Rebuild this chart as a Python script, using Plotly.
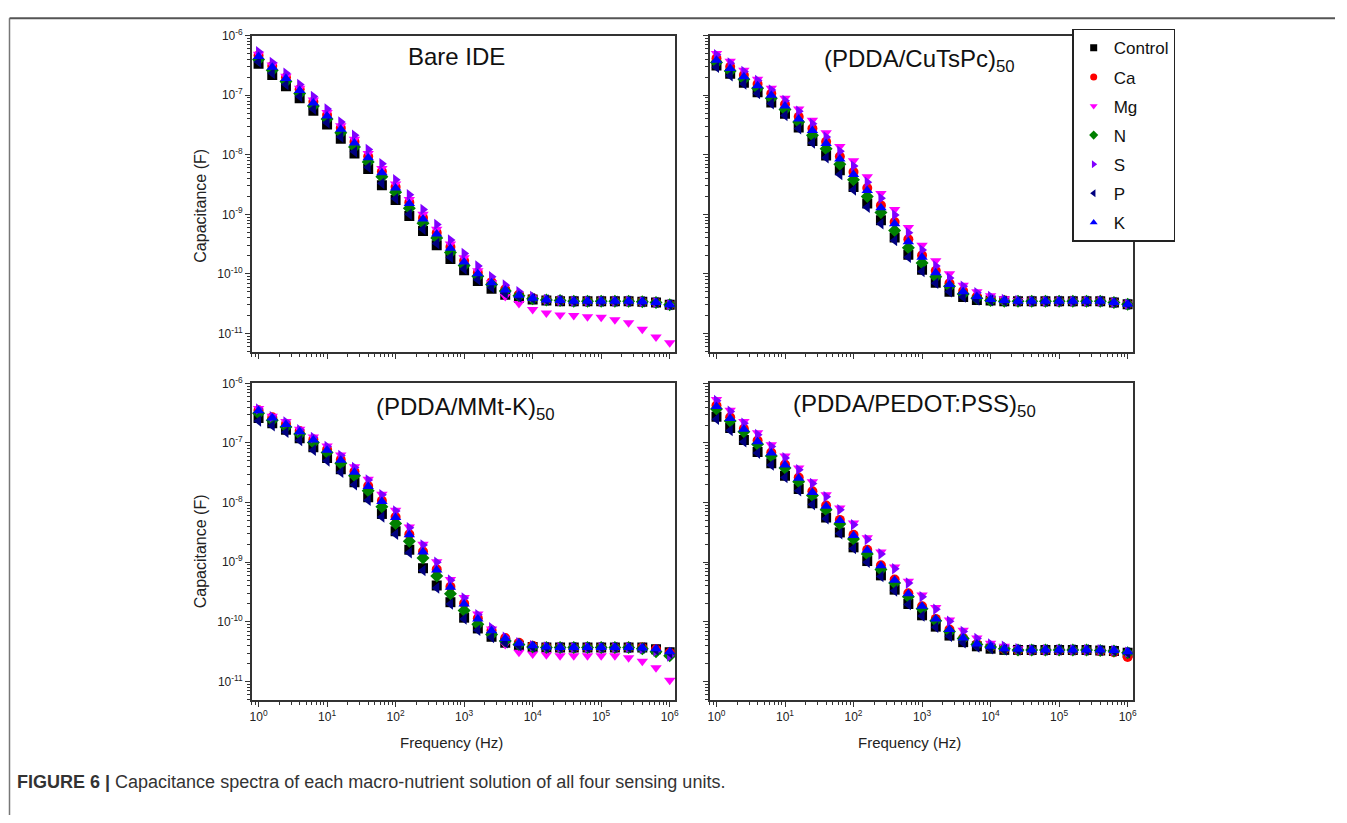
import plotly.graph_objects as go
import numpy as np

# ---------------- data ----------------
# frequency exponents: f = 10**freq_exp  (Hz)
freq_exp = [0.0, 0.2, 0.4, 0.6, 0.8, 1.0, 1.2, 1.4, 1.6, 1.8, 2.0, 2.2, 2.4, 2.6, 2.8,
            3.0, 3.2, 3.4, 3.6, 3.8, 4.0, 4.2, 4.4, 4.6, 4.8, 5.0, 5.2, 5.4, 5.6, 5.8, 6.0]

series_names = ["Control", "Ca", "Mg", "N", "S", "P", "K"]
panel_titles = ["Bare IDE", "(PDDA/CuTsPc)<sub>50</sub>",
                "(PDDA/MMt-K)<sub>50</sub>", "(PDDA/PEDOT:PSS)<sub>50</sub>"]
x_tick_exp = [0, 1, 2, 3, 4, 5, 6]
y_tick_exp = [-6, -7, -8, -9, -10, -11]

# capacitance values given as log10(C / F)
bare_control = [-6.47,-6.66,-6.85,-7.05,-7.26,-7.49,-7.73,-7.98,-8.24,-8.51,-8.76,-9.03,-9.28,-9.52,-9.75,-9.94,-10.12,-10.25,-10.35,-10.40,-10.43,-10.45,-10.46,-10.46,-10.46,-10.46,-10.46,-10.46,-10.47,-10.48,-10.52]
bare_ca      = [-6.33,-6.51,-6.70,-6.90,-7.11,-7.33,-7.55,-7.78,-8.03,-8.28,-8.54,-8.80,-9.06,-9.31,-9.55,-9.78,-9.98,-10.14,-10.26,-10.35,-10.41,-10.44,-10.45,-10.46,-10.46,-10.46,-10.46,-10.46,-10.47,-10.48,-10.52]
bare_mg      = [-6.31,-6.49,-6.68,-6.88,-7.08,-7.29,-7.51,-7.74,-7.98,-8.23,-8.49,-8.75,-9.00,-9.25,-9.50,-9.73,-9.95,-10.15,-10.38,-10.50,-10.60,-10.66,-10.69,-10.70,-10.72,-10.73,-10.77,-10.82,-10.93,-11.06,-11.16]
bare_n       = [-6.40,-6.58,-6.77,-6.97,-7.18,-7.40,-7.63,-7.87,-8.12,-8.37,-8.63,-8.90,-9.15,-9.40,-9.64,-9.86,-10.04,-10.18,-10.29,-10.37,-10.42,-10.44,-10.45,-10.46,-10.46,-10.46,-10.46,-10.46,-10.47,-10.48,-10.52]
bare_s       = [-6.27,-6.45,-6.63,-6.82,-7.02,-7.23,-7.45,-7.67,-7.91,-8.15,-8.42,-8.67,-8.92,-9.17,-9.43,-9.66,-9.87,-10.05,-10.19,-10.30,-10.38,-10.43,-10.45,-10.46,-10.46,-10.46,-10.46,-10.46,-10.47,-10.48,-10.52]
bare_p       = [-6.44,-6.63,-6.82,-7.02,-7.23,-7.46,-7.70,-7.95,-8.21,-8.48,-8.74,-9.00,-9.25,-9.49,-9.72,-9.92,-10.10,-10.23,-10.33,-10.39,-10.42,-10.44,-10.45,-10.46,-10.46,-10.46,-10.46,-10.46,-10.47,-10.48,-10.52]
bare_k       = [-6.35,-6.53,-6.72,-6.92,-7.13,-7.35,-7.57,-7.80,-8.05,-8.30,-8.56,-8.82,-9.08,-9.33,-9.57,-9.80,-10.00,-10.15,-10.27,-10.36,-10.41,-10.44,-10.45,-10.46,-10.46,-10.46,-10.46,-10.46,-10.47,-10.48,-10.52]

cu_control = [-6.50,-6.64,-6.79,-6.95,-7.12,-7.31,-7.54,-7.77,-8.01,-8.26,-8.54,-8.82,-9.10,-9.39,-9.68,-9.93,-10.15,-10.30,-10.39,-10.44,-10.45,-10.46,-10.46,-10.46,-10.46,-10.46,-10.46,-10.46,-10.46,-10.48,-10.51]
cu_ca      = [-6.38,-6.52,-6.66,-6.81,-6.97,-7.15,-7.36,-7.56,-7.78,-8.03,-8.29,-8.56,-8.85,-9.13,-9.42,-9.69,-9.95,-10.16,-10.29,-10.38,-10.43,-10.45,-10.46,-10.46,-10.46,-10.46,-10.46,-10.46,-10.46,-10.48,-10.51]
cu_mg      = [-6.30,-6.43,-6.58,-6.73,-6.88,-7.05,-7.23,-7.42,-7.63,-7.86,-8.10,-8.37,-8.65,-8.92,-9.22,-9.52,-9.78,-10.00,-10.19,-10.30,-10.37,-10.42,-10.45,-10.46,-10.46,-10.46,-10.46,-10.46,-10.46,-10.48,-10.51]
cu_n       = [-6.45,-6.59,-6.73,-6.88,-7.05,-7.24,-7.45,-7.67,-7.90,-8.16,-8.42,-8.70,-8.97,-9.27,-9.56,-9.82,-10.05,-10.21,-10.34,-10.41,-10.45,-10.46,-10.46,-10.46,-10.46,-10.46,-10.46,-10.46,-10.46,-10.48,-10.51]
cu_s       = [-6.32,-6.46,-6.60,-6.75,-6.91,-7.09,-7.27,-7.48,-7.70,-7.94,-8.19,-8.46,-8.73,-9.01,-9.31,-9.60,-9.87,-10.07,-10.21,-10.32,-10.38,-10.43,-10.45,-10.46,-10.46,-10.46,-10.46,-10.46,-10.46,-10.48,-10.51]
cu_p       = [-6.53,-6.67,-6.81,-6.97,-7.14,-7.34,-7.56,-7.80,-8.05,-8.33,-8.59,-8.88,-9.16,-9.44,-9.72,-9.96,-10.16,-10.30,-10.39,-10.44,-10.45,-10.46,-10.46,-10.46,-10.46,-10.46,-10.46,-10.46,-10.46,-10.48,-10.51]
cu_k       = [-6.41,-6.55,-6.69,-6.84,-7.00,-7.18,-7.40,-7.59,-7.81,-8.07,-8.33,-8.60,-8.89,-9.16,-9.46,-9.72,-9.98,-10.18,-10.30,-10.38,-10.43,-10.45,-10.46,-10.46,-10.46,-10.46,-10.46,-10.46,-10.46,-10.48,-10.51]

mmt_control = [-6.58,-6.67,-6.78,-6.92,-7.07,-7.25,-7.44,-7.66,-7.91,-8.19,-8.48,-8.79,-9.10,-9.39,-9.67,-9.93,-10.11,-10.25,-10.35,-10.40,-10.42,-10.43,-10.43,-10.43,-10.43,-10.43,-10.43,-10.43,-10.43,-10.46,-10.51]
mmt_ca      = [-6.45,-6.57,-6.68,-6.80,-6.94,-7.11,-7.28,-7.48,-7.72,-7.97,-8.24,-8.53,-8.82,-9.12,-9.41,-9.69,-9.94,-10.14,-10.27,-10.35,-10.40,-10.42,-10.43,-10.43,-10.43,-10.43,-10.43,-10.43,-10.43,-10.46,-10.52]
mmt_mg      = [-6.42,-6.55,-6.64,-6.77,-6.90,-7.05,-7.20,-7.40,-7.61,-7.86,-8.13,-8.41,-8.70,-8.99,-9.29,-9.59,-9.87,-10.12,-10.38,-10.51,-10.54,-10.55,-10.57,-10.57,-10.57,-10.57,-10.57,-10.60,-10.66,-10.77,-10.98]
mmt_n       = [-6.50,-6.62,-6.73,-6.85,-6.99,-7.16,-7.34,-7.55,-7.80,-8.07,-8.35,-8.65,-8.93,-9.23,-9.53,-9.81,-10.04,-10.21,-10.32,-10.38,-10.42,-10.43,-10.43,-10.43,-10.43,-10.43,-10.43,-10.43,-10.45,-10.50,-10.57]
mmt_s       = [-6.43,-6.56,-6.65,-6.78,-6.91,-7.06,-7.21,-7.41,-7.62,-7.87,-8.14,-8.42,-8.71,-9.00,-9.30,-9.60,-9.88,-10.10,-10.26,-10.35,-10.40,-10.42,-10.43,-10.43,-10.43,-10.43,-10.43,-10.43,-10.45,-10.49,-10.57]
mmt_p       = [-6.63,-6.71,-6.82,-6.96,-7.12,-7.30,-7.49,-7.70,-7.96,-8.24,-8.53,-8.84,-9.14,-9.43,-9.70,-9.95,-10.14,-10.26,-10.35,-10.40,-10.42,-10.43,-10.43,-10.43,-10.43,-10.43,-10.43,-10.43,-10.44,-10.47,-10.52]
mmt_k       = [-6.46,-6.58,-6.69,-6.81,-6.95,-7.12,-7.29,-7.49,-7.73,-7.98,-8.25,-8.54,-8.83,-9.13,-9.42,-9.70,-9.95,-10.15,-10.28,-10.36,-10.40,-10.42,-10.43,-10.43,-10.43,-10.43,-10.43,-10.43,-10.44,-10.45,-10.50]

ped_control = [-6.56,-6.75,-6.95,-7.15,-7.34,-7.55,-7.77,-8.01,-8.25,-8.50,-8.75,-8.98,-9.22,-9.46,-9.70,-9.89,-10.08,-10.23,-10.34,-10.41,-10.45,-10.47,-10.47,-10.47,-10.47,-10.47,-10.47,-10.47,-10.48,-10.49,-10.52]
ped_ca      = [-6.37,-6.57,-6.76,-6.96,-7.16,-7.36,-7.58,-7.81,-8.05,-8.29,-8.54,-8.79,-9.05,-9.29,-9.52,-9.74,-9.95,-10.13,-10.27,-10.37,-10.42,-10.46,-10.48,-10.48,-10.48,-10.48,-10.48,-10.48,-10.49,-10.51,-10.59]
ped_mg      = [-6.27,-6.45,-6.64,-6.83,-7.03,-7.22,-7.42,-7.65,-7.87,-8.09,-8.34,-8.59,-8.83,-9.08,-9.32,-9.55,-9.76,-9.97,-10.14,-10.27,-10.36,-10.41,-10.45,-10.48,-10.48,-10.48,-10.48,-10.48,-10.49,-10.50,-10.53]
ped_n       = [-6.43,-6.63,-6.81,-7.02,-7.22,-7.42,-7.65,-7.88,-8.12,-8.36,-8.61,-8.86,-9.12,-9.35,-9.58,-9.78,-9.98,-10.16,-10.28,-10.38,-10.42,-10.45,-10.47,-10.47,-10.47,-10.47,-10.47,-10.47,-10.48,-10.49,-10.52]
ped_s       = [-6.29,-6.47,-6.67,-6.86,-7.06,-7.25,-7.45,-7.68,-7.90,-8.12,-8.37,-8.62,-8.86,-9.11,-9.35,-9.58,-9.79,-9.99,-10.16,-10.28,-10.37,-10.41,-10.45,-10.47,-10.47,-10.47,-10.47,-10.47,-10.47,-10.48,-10.51]
ped_p       = [-6.60,-6.79,-6.98,-7.17,-7.37,-7.58,-7.80,-8.03,-8.27,-8.52,-8.77,-9.00,-9.24,-9.48,-9.71,-9.90,-10.09,-10.24,-10.35,-10.42,-10.45,-10.47,-10.47,-10.47,-10.47,-10.47,-10.47,-10.47,-10.48,-10.49,-10.52]
ped_k       = [-6.39,-6.59,-6.77,-6.98,-7.17,-7.37,-7.59,-7.83,-8.06,-8.30,-8.55,-8.80,-9.06,-9.30,-9.53,-9.74,-9.95,-10.13,-10.27,-10.37,-10.41,-10.45,-10.46,-10.47,-10.47,-10.47,-10.47,-10.47,-10.47,-10.48,-10.50]

panels_data = [
    [bare_control, bare_ca, bare_mg, bare_n, bare_s, bare_p, bare_k],
    [cu_control, cu_ca, cu_mg, cu_n, cu_s, cu_p, cu_k],
    [mmt_control, mmt_ca, mmt_mg, mmt_n, mmt_s, mmt_p, mmt_k],
    [ped_control, ped_ca, ped_mg, ped_n, ped_s, ped_p, ped_k],
]

# ---------------- styling ----------------
# the page body adds an 8 px margin; the figure is sized so the whole page fits the window
OFF = 8
W, H = 1347 - 2 * OFF, 823 - 2 * OFF
FONT = "Arial, Liberation Sans, sans-serif"
colors = ["#000000", "#FF0000", "#FF00FF", "#008000", "#8000FF", "#000080", "#0000FF"]
symbols = ["square", "circle", "triangle-down", "diamond", "triangle-right", "triangle-left", "triangle-up"]

freq = 10 ** np.array(freq_exp)

fig = go.Figure()
axis_ids = [("x", "y"), ("x2", "y2"), ("x3", "y3"), ("x4", "y4")]
for p, series in enumerate(panels_data):
    xa, ya = axis_ids[p]
    for i, vals in enumerate(series):
        fig.add_trace(go.Scatter(
            x=freq, y=10 ** np.array(vals), mode="markers", name=series_names[i],
            marker=dict(symbol=symbols[i], color=colors[i], size=10, line=dict(width=0)),
            xaxis=xa, yaxis=ya, showlegend=False))

# legend entries
for i, nm in enumerate(series_names):
    fig.add_trace(go.Scatter(
        x=[None], y=[None], mode="markers", name=nm, legendgroup=nm,
        marker=dict(symbol=symbols[i], color=colors[i], size=7, line=dict(width=0)),
        xaxis="x2", yaxis="y2", showlegend=True))


def px_x(v):
    return (v - OFF) / W


def px_y(v):
    # screen position -> paper fraction (small empirical correction for page placement)
    v_adj = (v - 8.3) / 0.99
    return 1 - (v_adj - OFF) / H


xdom_left = [px_x(251), px_x(676)]
xdom_right = [px_x(711), px_x(1136)]
ydom_top = [px_y(352), px_y(35)]
ydom_bot = [px_y(700), px_y(383)]

x_tickvals = [10.0 ** e for e in x_tick_exp]
x_ticktext = ["10<sup>%d</sup>" % e for e in x_tick_exp]
y_tickvals = [10.0 ** e for e in y_tick_exp]
y_ticktext = ["10<sup>%d</sup>" % e for e in y_tick_exp]

axis_common = dict(
    type="log", showline=True, linecolor="#333333", linewidth=1.5, mirror=True,
    ticks="outside", ticklen=5, tickwidth=1.2, tickcolor="#333333",
    tickmode="array", showgrid=False, zeroline=False,
    tickfont=dict(family=FONT, size=12, color="#222222"),
    minor=dict(ticks="outside", ticklen=3, tickwidth=1, tickcolor="#333333", dtick="D1", showgrid=False),
)
xr = [-0.097, 6.077]
xax = dict(axis_common, tickvals=x_tickvals, ticktext=x_ticktext, range=xr)
yax = dict(axis_common, tickvals=y_tickvals, ticktext=y_ticktext)

layout_axes = {
    "xaxis":  dict(xax, domain=xdom_left,  anchor="y",  showticklabels=False),
    "yaxis":  dict(yax, domain=ydom_top,   anchor="x",  range=[-11.32, -6], showticklabels=True),
    "xaxis2": dict(xax, domain=xdom_right, anchor="y2", showticklabels=False),
    "yaxis2": dict(yax, domain=ydom_top,   anchor="x2", range=[-11.32, -6], showticklabels=False),
    "xaxis3": dict(xax, domain=xdom_left,  anchor="y3", showticklabels=True),
    "yaxis3": dict(yax, domain=ydom_bot,   anchor="x3", range=[-11.31, -6], showticklabels=True),
    "xaxis4": dict(xax, domain=xdom_right, anchor="y4", showticklabels=True),
    "yaxis4": dict(yax, domain=ydom_bot,   anchor="x4", range=[-11.31, -6], showticklabels=False),
}

annotations = []
title_pos = [(457, 56), (922, 60), (466, 408), (917, 405)]
for t, (ax_, ay_) in zip(panel_titles, title_pos):
    annotations.append(dict(text=t, x=px_x(ax_), y=px_y(ay_), xref="paper", yref="paper",
                            xanchor="center", yanchor="middle", showarrow=False,
                            font=dict(family=FONT, size=24, color="#111111")))
for cy in (205, 551):
    annotations.append(dict(text="Capacitance (F)", x=px_x(199), y=px_y(cy), xref="paper", yref="paper",
                            xanchor="center", yanchor="middle", textangle=-90, showarrow=False,
                            font=dict(family=FONT, size=16, color="#222222")))
for cx in (452, 912):
    annotations.append(dict(text="Frequency (Hz)", x=px_x(cx), y=px_y(743), xref="paper", yref="paper",
                            xanchor="center", yanchor="middle", showarrow=False,
                            font=dict(family=FONT, size=15, color="#222222")))
annotations.append(dict(
    text="<b>FIGURE 6 |</b> Capacitance spectra of each macro-nutrient solution of all four sensing units.",
    x=px_x(13), y=px_y(782), xref="paper", yref="paper", xanchor="left", yanchor="middle",
    showarrow=False, font=dict(family=FONT, size=18, color="#333333")))

shapes = [
    dict(type="line", xref="paper", yref="paper", x0=px_x(7.5), x1=px_x(7.5), y0=0.9985, y1=0,
         line=dict(color="#777777", width=1.5)),
    dict(type="line", xref="paper", yref="paper", x0=px_x(7.5), x1=1, y0=0.9985, y1=0.9985,
         line=dict(color="#555555", width=2)),
]

fig.update_layout(
    width=W, height=H, margin=dict(l=0, r=0, t=0, b=0),
    paper_bgcolor="white", plot_bgcolor="white",
    font=dict(family=FONT, color="#222222"),
    showlegend=True,
    legend=dict(x=px_x(1075), y=px_y(28), xanchor="left", yanchor="top",
                bgcolor="white", bordercolor="#222222", borderwidth=1.5,
                font=dict(family=FONT, size=17, color="#111111"),
                traceorder="grouped", tracegroupgap=4, itemclick=False),
    annotations=annotations, shapes=shapes,
    **layout_axes,
)

fig.write_html("out.html")
